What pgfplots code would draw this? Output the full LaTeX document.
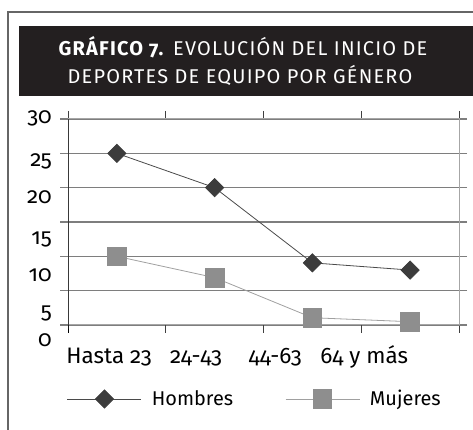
\documentclass[border=0pt]{standalone}
\usepackage{fontspec}
\setmainfont{Fira Sans}[Numbers=OldStyle]
\newfontfamily\titlefont{Fira Sans}[Numbers=OldStyle, LetterSpace=6]
\usepackage{pgfplots}
\pgfplotsset{compat=1.18}
\definecolor{darkbox}{HTML}{231F20}
\definecolor{hcol}{HTML}{3C3C3C}
\definecolor{hline}{HTML}{4A4A4A}
\definecolor{mcol}{HTML}{8E8E8E}
\definecolor{mline}{HTML}{A0A0A0}
\definecolor{gridc}{HTML}{7E7E7E}
\begin{document}
\begin{tikzpicture}
\path[use as bounding box] (0bp,0bp) rectangle (473bp,430bp);
\draw[line width=1.5bp, color=black!60] (8bp,0bp) -- (8bp,418bp) -- (473bp,418bp);
\fill[darkbox] (19bp,334bp) rectangle (473bp,404bp);
\node[white, font=\titlefont\fontsize{20}{22}\selectfont, anchor=base, inner sep=0pt] at (243bp,374bp) {\textbf{GRÁFICO 7.} EVOLUCIÓN DEL INICIO DE};
\node[white, font=\titlefont\fontsize{20}{22}\selectfont, anchor=base, inner sep=0pt] at (240bp,346bp) {DEPORTES DE EQUIPO POR GÉNERO};
\begin{axis}[
  at={(68bp,105bp)}, anchor=south west,
  scale only axis, width=391bp, height=206bp,
  xmin=0, xmax=4, ymin=0, ymax=30,
  xtick={0,1,2,3,4}, xticklabels={},
  ytick={0,5,...,30},
  yticklabels={\raisebox{-22bp}{0},\raisebox{-28bp}{5},\raisebox{-25bp}{10},\raisebox{-23bp}{15},\raisebox{-16bp}{20},\raisebox{-13bp}{25},\raisebox{-5bp}{30}},
  yticklabel style={anchor=base east, inner sep=0pt, xshift=-8bp},
  ymajorgrids, grid style={gridc, line width=1.3bp},
  axis line style={draw=gray!70, line width=1bp},
  tick align=outside, major tick length=8bp,
  ytick style={gridc, line width=1.3bp},
  xtick style={black!75, line width=1bp},
  extra x ticks={0.42,1.31,2.12,3.03},
  extra x tick labels={Hasta 23,24-43,44-63,64 y más},
  extra x tick style={major tick length=0pt, xticklabel style={anchor=base, yshift=-39bp, inner sep=0pt}},
  tick label style={font=\fontsize{22.5}{26}\selectfont},
  /pgf/number format/assume math mode=true,
  clip=false,
  legend columns=2,
  legend cell align=left,
  legend style={draw=none, fill=none, at={(axis description cs:0.478,-0.359)}, anchor=center,
    font=\fontsize{20}{24}\selectfont,
    /tikz/every odd column/.append style={column sep=8bp},
    /tikz/every even column/.append style={column sep=50bp}},
  legend image code/.code={\draw[#1, mark repeat=2, mark phase=2] plot coordinates {(0bp,0bp) (37bp,0bp) (74bp,0bp)};},
]
\draw[black, line width=0.8bp] (rel axis cs:0,1) -- (rel axis cs:0,0) -- ++(0bp,-8bp);
\addplot[color=hline, line width=0.8bp, mark=square*, mark size=6.4bp,
  mark options={rotate=45, fill=hcol, draw=hcol}]
  coordinates {(0.5,25) (1.5,20) (2.5,9.05) (3.5,8.0)};
\addlegendentry{Hombres}
\addplot[color=mline, line width=0.8bp, mark=square*, mark size=9.3bp,
  mark options={fill=mcol, draw=mcol, rounded corners=2bp}]
  coordinates {(0.5,10) (1.5,6.9) (2.5,1.06) (3.5,0.48)};
\addlegendentry{Mujeres}
\end{axis}
\end{tikzpicture}
\end{document}
